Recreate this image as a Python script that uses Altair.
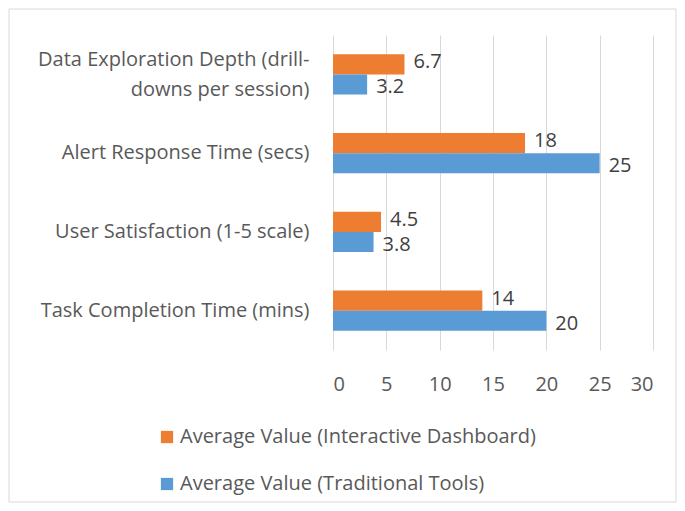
import altair as alt
import pandas as pd

categories = [
    "Data Exploration Depth (drill-downs per session)",
    "Alert Response Time (secs)",
    "User Satisfaction (1-5 scale)",
    "Task Completion Time (mins)",
]
series_names = [
    "Average Value (Interactive Dashboard)",
    "Average Value (Traditional Tools)",
]
dashboard_values = [6.7, 18, 4.5, 14]
traditional_values = [3.2, 25, 3.8, 20]
value_labels_dash = ["6.7", "18", "4.5", "14"]
value_labels_trad = ["3.2", "25", "3.8", "20"]
x_ticks = [0, 5, 10, 15, 20, 25, 30]
colors = ["#ED7D31", "#5B9BD5"]

rows = []
for c, v, l in zip(categories, dashboard_values, value_labels_dash):
    rows.append({"category": c, "series": series_names[0], "value": v, "label": l})
for c, v, l in zip(categories, traditional_values, value_labels_trad):
    rows.append({"category": c, "series": series_names[1], "value": v, "label": l})
df = pd.DataFrame(rows)

FONT = "Open Sans"
FS = 20
long_label = "Data Exploration Depth (drill-downs per session)"
label_expr = (
    f"datum.value == '{long_label}' ? "
    "['Data Exploration Depth (drill-', 'downs per session)'] : datum.value"
)

y_enc = alt.Y(
    "category:N",
    sort=categories,
    title=None,
    scale=alt.Scale(paddingInner=0.49, paddingOuter=0.245),
    axis=alt.Axis(
        domain=False,
        ticks=False,
        labelPadding=24,
        labelFontSize=FS,
        labelColor="#595959",
        labelFont=FONT,
        labelLineHeight=30,
        labelExpr=label_expr,
        labelLimit=400,
        labelOffset={
            "condition": {"test": f"datum.value == '{long_label}'", "value": -14},
            "value": 0,
        },
    ),
)
x_enc = alt.X(
    "value:Q",
    title=None,
    scale=alt.Scale(domain=[0, 30], nice=False),
    axis=alt.Axis(
        values=x_ticks,
        domain=False,
        ticks=False,
        grid=True,
        gridColor="#D9D9D9",
        gridWidth=1,
        labelFontSize=FS,
        labelColor="#595959",
        labelFont=FONT,
        labelPadding=24,
    ),
)
yoff = alt.YOffset("series:N", sort=series_names)

bars = alt.Chart(df).mark_bar().encode(
    x=x_enc,
    y=y_enc,
    yOffset=yoff,
    color=alt.Color(
        "series:N",
        sort=series_names,
        scale=alt.Scale(domain=series_names, range=colors),
        legend=alt.Legend(
            title=None,
            orient="none",
            legendX=-176,
            legendY=392,
            direction="vertical",
            symbolType="square",
            symbolSize=150,
            symbolStrokeWidth=0,
            labelFontSize=FS,
            labelFont=FONT,
            labelColor="#595959",
            rowPadding=27,
            labelOffset=3,
            labelLimit=500,
        ),
    ),
)


def value_text(series, dy):
    return alt.Chart(df).transform_filter(
        alt.datum.series == series
    ).mark_text(
        align="left", baseline="middle", dx=9, dy=dy, fontSize=FS, font=FONT,
        color="#404040",
    ).encode(
        x="value:Q",
        y=alt.Y("category:N", sort=categories),
        yOffset=yoff,
        text="label:N",
    )


texts_dash = value_text(series_names[0], -2)
texts_trad = value_text(series_names[1], 3)

border = alt.Chart(pd.DataFrame({"a": [0]})).mark_rect(
    fill=None, stroke="#D9D9D9", strokeWidth=1, clip=False
).encode(
    x=alt.value(-324), x2=alt.value(343), y=alt.value(-26), y2=alt.value(467)
)

chart = (
    alt.layer(border, bars, texts_dash, texts_trad)
    .properties(
        width=320,
        height=315,
        autosize=alt.AutoSizeParams(type="none"),
        padding={"left": 325, "top": 27, "right": 24, "bottom": 153},
        background="white",
    )
    .configure_view(stroke=None)
)

chart.save("out.html", embed_options={"renderer": "svg", "actions": False})
